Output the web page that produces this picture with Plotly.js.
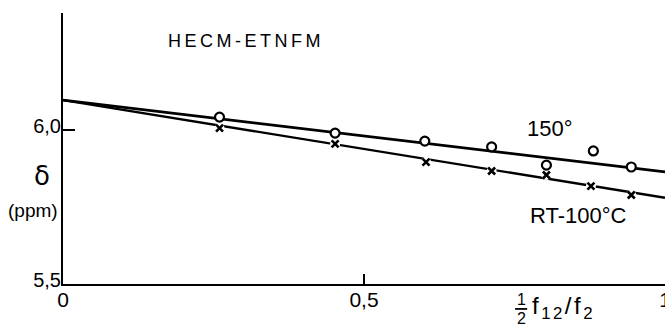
<!DOCTYPE html>
<html>
<head>
<meta charset="utf-8">
<script src="https://cdn.plot.ly/plotly-3.0.1.min.js"></script>
<style>html,body{margin:0;padding:0;background:#fff;}#chart{width:665px;height:330px;}</style>
</head>
<body>
<div id="chart"></div>
<script>
// Measured points, 150 deg (open circles)
const x150 = [0.26, 0.452, 0.601, 0.712, 0.803, 0.881, 0.944];
const y150 = [6.042, 5.990, 5.964, 5.945, 5.886, 5.932, 5.880];
// Measured points, RT-100 C (crosses)
const xRT = [0.26, 0.452, 0.603, 0.712, 0.803, 0.877, 0.944];
const yRT = [6.006, 5.955, 5.896, 5.867, 5.854, 5.818, 5.789];
// Fitted straight lines
const fitX = [0, 1.0];
const fit150 = [6.097, 5.864];
const fitRT = [6.097, 5.780];
// Axis ticks
const xTickVals = [0, 0.5, 1];
const xTickText = ["0", "0,5", "1"];
const yTickVals = [5.5, 6.0];
const yTickText = ["5,5", "6,0"];

const font = "Liberation Sans, Arial, sans-serif";

const traces = [
  {x: fitX, y: fit150, mode: "lines", line: {color: "#000", width: 2.8}, hoverinfo: "skip"},
  {x: fitX, y: fitRT, mode: "lines", line: {color: "#000", width: 2.4}, hoverinfo: "skip"},
  {x: xRT, y: yRT, mode: "markers", marker: {symbol: "circle", size: 10, color: "#fff", line: {width: 0}}, hoverinfo: "skip"},
  {x: xRT, y: yRT, mode: "markers", marker: {symbol: "x-thin-open", size: 7, color: "#000", line: {color: "#000", width: 2.6}}},
  {x: x150, y: y150, mode: "markers", marker: {symbol: "circle", size: 9, color: "#fff", line: {color: "#000", width: 2.2}}}
];

const layout = {
  width: 665, height: 330,
  margin: {l: 63, r: 0, t: 13, b: 46},
  paper_bgcolor: "#fff", plot_bgcolor: "#fff",
  showlegend: false,
  font: {family: font, color: "#000", size: 15},
  xaxis: {
    range: [0, 1.0], tickvals: xTickVals, ticktext: xTickText,
    showgrid: false, zeroline: false, showline: true, linecolor: "#000", linewidth: 2,
    ticks: "inside", ticklen: 10, tickwidth: 1.5, tickcolor: "#000",
    tickfont: {family: font, size: 21, color: "#000"}, ticklabelstandoff: -4,
    ticklabeloverflow: "allow"
  },
  yaxis: {
    range: [5.5, 6.38], tickvals: yTickVals, ticktext: yTickText,
    showgrid: false, zeroline: false, showline: true, linecolor: "#000", linewidth: 2,
    ticks: "inside", ticklen: 12, tickwidth: 1.5, tickcolor: "#000",
    tickfont: {family: font, size: 20, color: "#000"}, ticklabelstandoff: -4,
    ticklabelshift: -4
  },
  annotations: [
    {xref: "paper", yref: "paper", x: 0.171, y: 0.897, xanchor: "left", yanchor: "middle",
     text: "<span style='letter-spacing:3.5px'>HECM-ETNFM</span>", showarrow: false,
     font: {family: font, size: 18, color: "#000"}},
    {x: 0.767, y: 6.0065, xanchor: "left", yanchor: "middle", text: "150°", showarrow: false,
     font: {family: font, size: 22, color: "#000"}},
    {x: 0.772, y: 5.724, xanchor: "left", yanchor: "middle", text: "RT-100°C", showarrow: false,
     font: {family: font, size: 22, color: "#000"}},
    {xref: "paper", yref: "paper", x: -0.018, y: 0.399, xanchor: "right", yanchor: "middle",
     text: "δ", showarrow: false, font: {family: "DejaVu Sans, sans-serif", size: 26, color: "#000"}},
    {xref: "paper", yref: "paper", x: -0.005, y: 0.273, xanchor: "right", yanchor: "middle",
     text: "(ppm)", showarrow: false, font: {family: font, size: 19, color: "#000"}},
    {xref: "paper", yref: "paper", x: 0.761, y: -0.056, xanchor: "center", yanchor: "middle",
     text: "1", showarrow: false, font: {family: font, size: 16, color: "#000"}},
    {xref: "paper", yref: "paper", x: 0.761, y: -0.128, xanchor: "center", yanchor: "middle",
     text: "2", showarrow: false, font: {family: font, size: 16, color: "#000"}},
    {xref: "paper", yref: "paper", x: 0.775, y: -0.085, xanchor: "left", yanchor: "middle",
     text: "<span style='letter-spacing:2.5px'>f<sub>12</sub>/f<sub>2</sub></span>", showarrow: false,
     font: {family: font, size: 24, color: "#000"}}
  ],
  shapes: [
    {type: "line", xref: "paper", yref: "paper", x0: 0.751, x1: 0.771, y0: -0.092, y1: -0.092,
     line: {color: "#000", width: 1.8}}
  ]
};

Plotly.newPlot("chart", traces, layout, {staticPlot: true, displayModeBar: false});
</script>
</body>
</html>
